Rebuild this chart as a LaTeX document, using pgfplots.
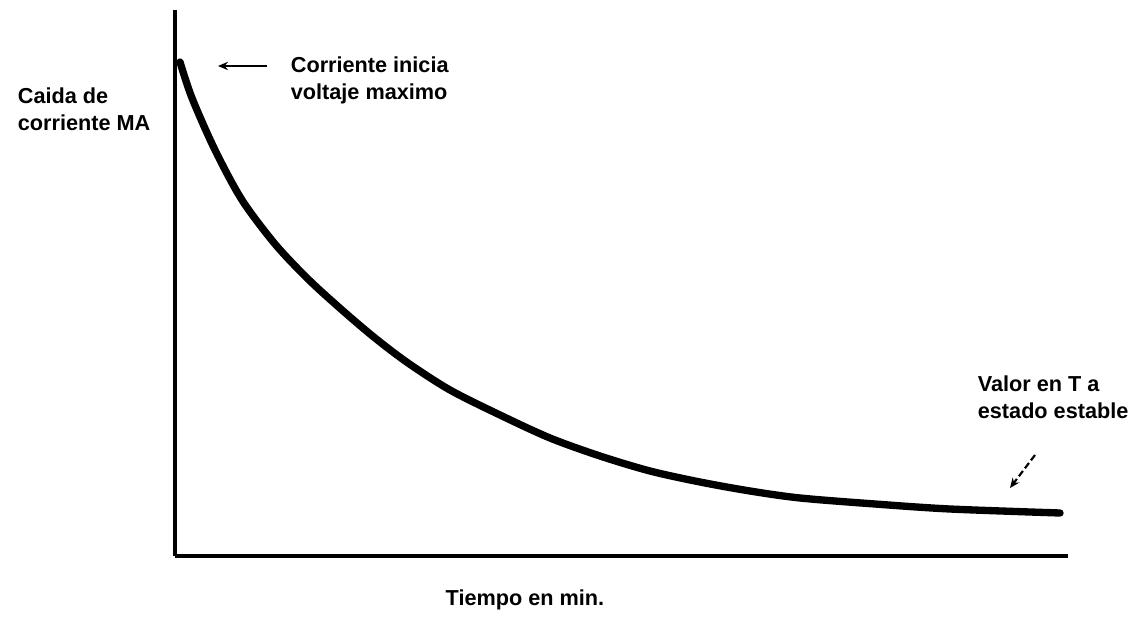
\documentclass[border=0pt]{standalone}
\usepackage{pgfplots}
\pgfplotsset{compat=1.18}
\usepackage{fontspec}
\setmainfont{Liberation Sans}
\usetikzlibrary{arrows.meta}
\begin{document}
\begin{tikzpicture}[x=0.6pt,y=0.6pt]
\useasboundingbox (-175,-61) rectangle (973,556);
\begin{axis}[
  at={(0,0)}, anchor=origin,
  x=0.6pt, y=0.6pt,
  xmin=0, xmax=893, ymin=0, ymax=546,
  axis lines=left,
  axis line style={line width=2.8pt, -},
  ticks=none,
  clip=false,
  font=\bfseries\fontsize{13}{16.2}\selectfont,
]
\addplot[black, line width=4.4pt, smooth, tension=0.5, line cap=round] coordinates {
(5,494) (17,458) (40,406) (67,356) (100,312) (133,277) (167,246) (200,218) (233,193) (275,166) (325,141) (375,118) (425,100) (475,85) (525,74) (575,65) (625,58) (700,52) (775,47) (885,43)
};
\node[anchor=west, align=left] at (axis cs:-163,447) {Caida de\\corriente MA};
\node[anchor=west, align=left] at (axis cs:110,476) {Corriente inicia\\voltaje maximo};
\node[anchor=west, align=left] at (axis cs:797,159) {Valor en T a\\estado estable};
\node at (axis cs:350,-44) {Tiempo en min.};
\draw[line width=1pt, -{Stealth[length=6pt,width=5pt]}] (axis cs:92,490) -- (axis cs:43,490);
\draw[line width=1.3pt, dash pattern=on 4pt off 2pt, -{Stealth[length=6pt,width=5pt]}] (axis cs:860,101) -- (axis cs:835,68);
\end{axis}
\end{tikzpicture}
\end{document}
